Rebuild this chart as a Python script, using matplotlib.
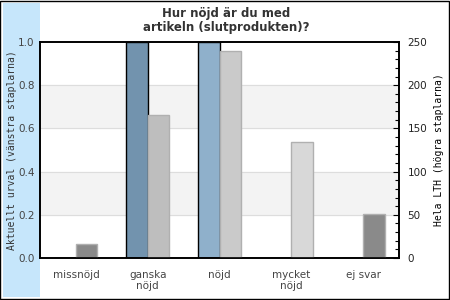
import numpy as np
import matplotlib
matplotlib.use("Agg")
import matplotlib.pyplot as plt
from matplotlib.patches import Rectangle
from matplotlib.ticker import MultipleLocator

# data
kategorier = ["missnöjd", "ganska\nnöjd", "nöjd", "mycket\nnöjd", "ej svar"]
urval = [0.0, 1.0, 1.0, 0.0, 0.0]          # vänster axel
hela_lth = [16, 165, 240, 134, 51]          # höger axel
farg_urval = ["#7293ae", "#7293ae", "#8fb0cb", "#8fb0cb", "#8fb0cb"]
farg_lth = ["#8a8a8a", "#bebebe", "#cacaca", "#d8d8d8", "#8a8a8a"]

fig = plt.figure(figsize=(4.5, 3), dpi=100)
fig.patches.append(Rectangle((0.007, 0.01), 0.082, 0.98, transform=fig.transFigure,
                             facecolor="#c6e6fb", edgecolor="none", zorder=-5))
fig.patches.append(Rectangle((0.001, 0.002), 0.997, 0.995, transform=fig.transFigure,
                             facecolor="none", edgecolor="black", linewidth=1.0))

ax = fig.add_axes([40/450, 42/300, 359/450, 216/300])
ax.set_facecolor("none")
ax2 = ax.twinx()

x = np.arange(len(kategorier))
w = 0.3

# bakgrundsband
for lo, hi in [(0.2, 0.4), (0.6, 0.8)]:
    ax.axhspan(lo, hi, color="#f3f3f3", zorder=0)
for y in [0.2, 0.4, 0.6, 0.8]:
    ax.axhline(y, color="#dddddd", lw=0.8, zorder=0.5)

ax.bar(x - w/2, urval, width=w, color=farg_urval, edgecolor="black", linewidth=1, zorder=2)
ax2.bar(x + w/2, hela_lth, width=w, color=farg_lth, edgecolor="#b0b0b0", linewidth=1, zorder=2)

ax.set_xlim(-0.5, 4.5)
ax.set_ylim(0, 1.0)
ax2.set_ylim(0, 250)

ax.set_xticks(x)
ax.set_xticklabels(kategorier, fontsize=7.5, color="#444444", linespacing=1.1)
ax.tick_params(axis="x", length=0, pad=9)
ax.set_yticks(np.arange(0, 1.01, 0.2))
ax.set_yticklabels(["0.0", "0.2", "0.4", "0.6", "0.8", "1.0"], fontsize=7.5, color="#444444")
ax.tick_params(axis="y", length=0, pad=4)

ax2.yaxis.set_major_locator(MultipleLocator(50))
ax2.yaxis.set_minor_locator(MultipleLocator(10))
ax2.tick_params(axis="y", which="major", direction="in", length=4, width=0.8,
                labelsize=7.5, labelcolor="#222222", pad=6)
ax2.tick_params(axis="y", which="minor", direction="in", length=3, width=0.8)

for a in (ax, ax2):
    for s in a.spines.values():
        s.set_color("black")
        s.set_linewidth(1.2)

ax.set_ylabel("Aktuellt urval (vänstra staplarna)", family="DejaVu Sans Mono",
              fontsize=7, color="#333333", labelpad=1)
ax2.set_ylabel("Hela LTH (högra staplarna)", family="DejaVu Sans Mono",
               fontsize=7, color="black", labelpad=5)

fig.text(0.502, 0.975, "Hur nöjd är du med\nartikeln (slutprodukten)?", ha="center", va="top",
         fontsize=8.5, fontweight="bold", color="#333333", linespacing=1.1)

fig.savefig("out.png", dpi=100)
